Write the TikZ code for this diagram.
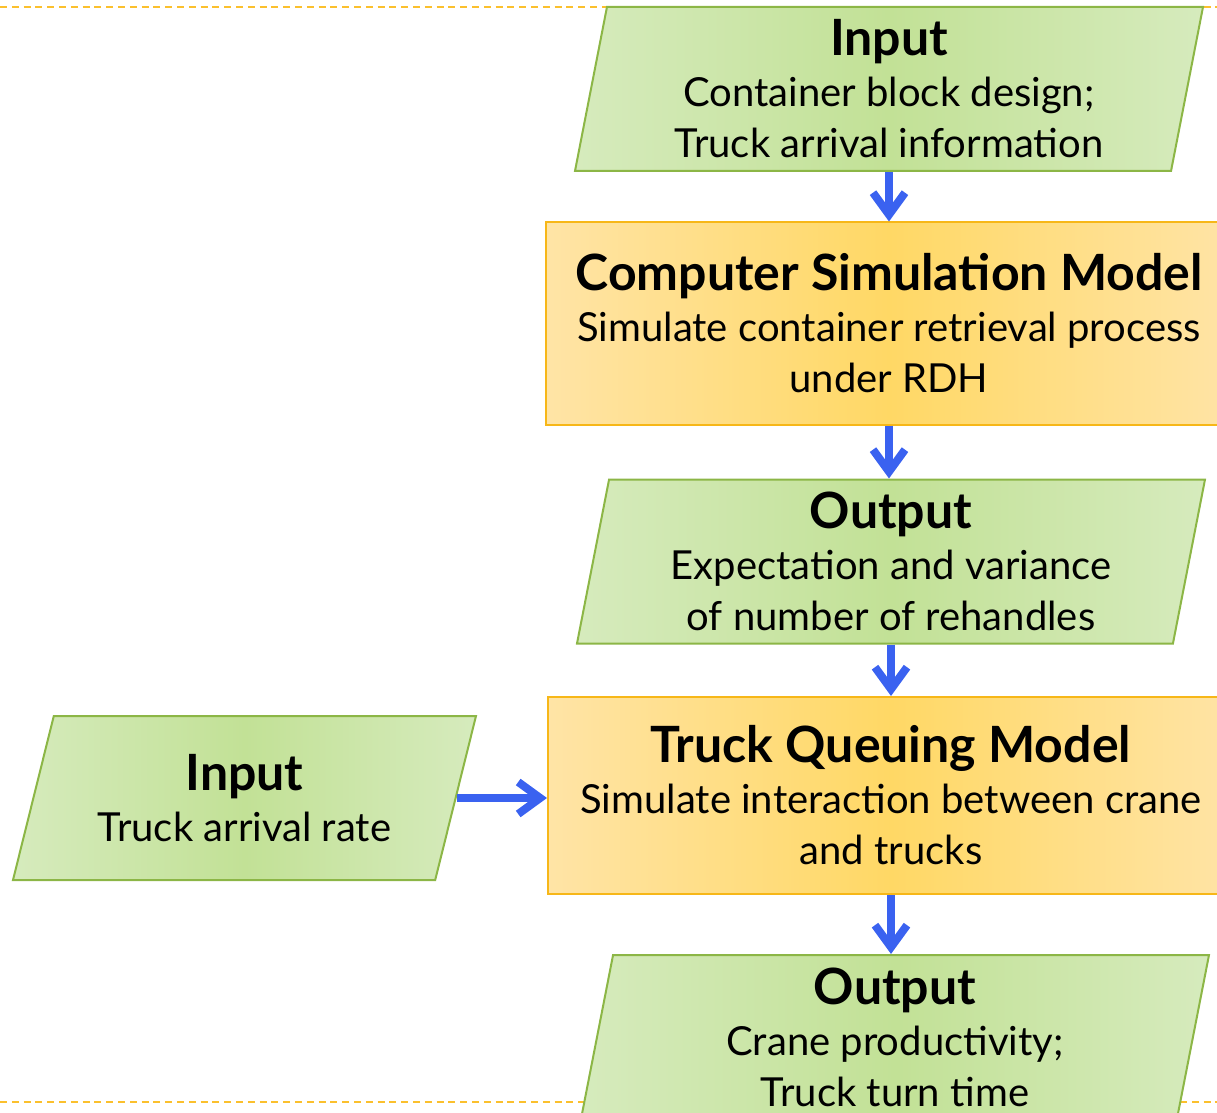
\documentclass[tikz,border=0pt]{standalone}
\usepackage{fontspec}
\setmainfont{Lato}
\usetikzlibrary{arrows.meta,shapes.geometric}

\definecolor{leafgreen}{HTML}{C2E196}
\definecolor{paleleaf}{HTML}{D6EBBD}
\definecolor{edgegreen}{HTML}{8CB646}
\definecolor{sunorange}{HTML}{FFD865}
\definecolor{palesun}{HTML}{FFE4A6}
\definecolor{edgeorange}{HTML}{F7B718}
\definecolor{flowblue}{HTML}{3A62F0}
\definecolor{guideorange}{HTML}{FBC02D}

\newcommand{\headfont}{\fontsize{25}{28}\selectfont\bfseries}
\newcommand{\bodyfont}{\fontsize{20}{25.5}\selectfont}

\tikzset{
  iobox/.style={trapezium, trapezium left angle=77, trapezium right angle=103,
    trapezium stretches body=true, draw=edgegreen, line width=1pt,
    left color=paleleaf, right color=paleleaf, middle color=leafgreen,
    minimum width=314pt, minimum height=82pt, inner sep=0pt,
    align=center, font=\bodyfont},
  modelbox/.style={rectangle, draw=edgeorange, line width=1pt,
    left color=palesun, right color=palesun, middle color=sunorange,
    minimum width=343pt, minimum height=101pt, inner sep=0pt,
    align=center, font=\bodyfont},
  flow/.style={draw=flowblue, line width=4pt,
    -{Straight Barb[length=11pt,width=16pt]}},
  guide/.style={draw=guideorange, line width=1pt, dash pattern=on 3.5pt off 2.4pt},
}

\begin{document}
\begin{tikzpicture}[x=0.5pt,y=-0.5pt]
\useasboundingbox (0,0) rectangle (1217,1113);
% dashed frame lines
\draw[guide] (0,7) -- (1217,7);
\draw[guide] (0,1102) -- (1217,1102);

% main column
\node[iobox] (blockin) at (889,89) {{\headfont Input}\\Container block design;\\Truck arrival information};
\node[modelbox] (simmodel) at (889,323.5) {{\headfont Computer Simulation Model}\\Simulate container retrieval process\\under RDH};
\node[iobox] (rehout) at (891,561.5) {{\headfont Output}\\Expectation and variance\\of number of rehandles};
\node[modelbox, minimum height=98.5pt] (queuemodel) at (891,795.5) {{\headfont Truck Queuing Model}\\Simulate interaction between crane\\and trucks};
\node[iobox] (craneout) at (895,1037) {{\headfont Output}\\Crane productivity;\\Truck turn time};

% side input
\node[iobox, minimum width=231.5pt, trapezium left angle=65, trapezium right angle=115] (ratein) at (244.5,798) {{\headfont Input}\\Truck arrival rate};

% arrows
\draw[flow] (blockin.south -| blockin.center) -- (simmodel.north -| blockin.center);
\draw[flow] (simmodel.south) -- (rehout.north -| simmodel.center);
\draw[flow] (rehout.south -| rehout.center) -- (queuemodel.north -| rehout.center);
\draw[flow] (queuemodel.south) -- (craneout.north -| queuemodel.center);
\draw[flow] (ratein.east) -- (ratein.east -| queuemodel.west);
\end{tikzpicture}
\end{document}
